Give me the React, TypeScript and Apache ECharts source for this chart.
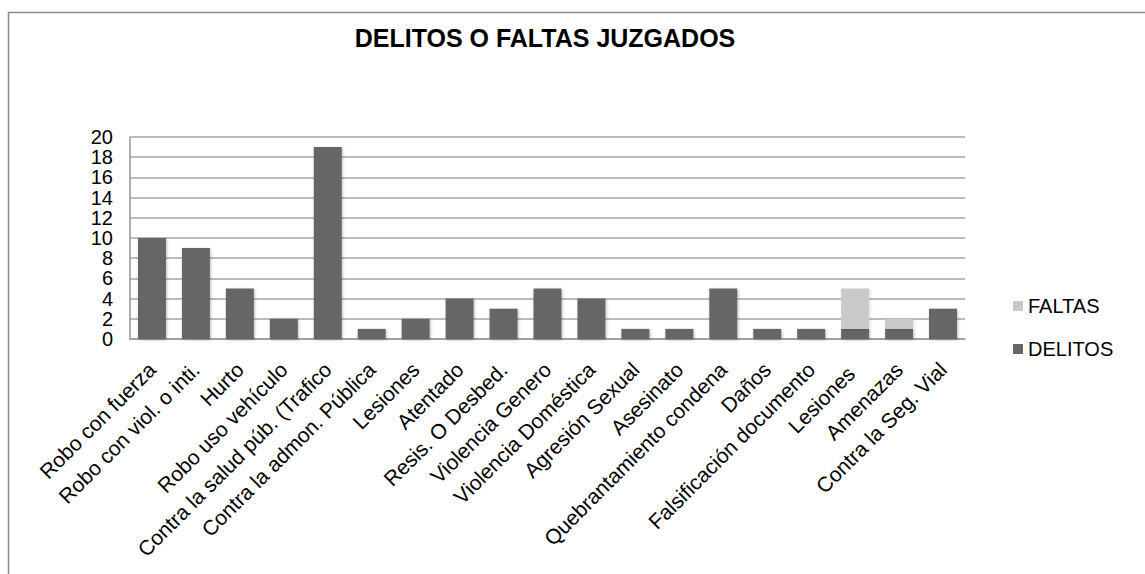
import React, { useEffect, useRef } from "react";
import * as echarts from "echarts";

const categories = [
  "Robo con fuerza",
  "Robo con viol. o inti.",
  "Hurto",
  "Robo uso vehículo",
  "Contra la salud púb. (Trafico",
  "Contra la admon. Pública",
  "Lesiones",
  "Atentado",
  "Resis. O Desbed.",
  "Violencia Genero",
  "Violencia Doméstica",
  "Agresión Sexual",
  "Asesinato",
  "Quebrantamiento condena",
  "Daños",
  "Falsificación documento",
  "Lesiones ",
  "Amenazas",
  "Contra la Seg. Vial",
];

const delitos = [10, 9, 5, 2, 19, 1, 2, 4, 3, 5, 4, 1, 1, 5, 1, 1, 1, 1, 3];
const faltas = [0, 0, 0, 0, 0, 0, 0, 0, 0, 0, 0, 0, 0, 0, 0, 0, 4, 1, 0];

const yTicks = { min: 0, max: 20, interval: 2 };
const titleText = "DELITOS O FALTAS JUZGADOS";

const FONT = "'Liberation Sans', Arial, sans-serif";

export default function App() {
  const ref = useRef<HTMLDivElement>(null);
  useEffect(() => {
    if (!ref.current) return;
    const chart = echarts.init(ref.current, undefined, { renderer: "svg" });
    chart.setOption({
      animation: false,
      backgroundColor: "#ffffff",
      textStyle: { fontFamily: FONT },
      graphic: [
        {
          type: "rect",
          shape: { x: 8.5, y: 12.5, width: 1300, height: 700 },
          style: { fill: "none", stroke: "#8c8c8c", lineWidth: 1.5 },
          silent: true,
        },
        {
          type: "text",
          x: 545,
          y: 38,
          style: {
            text: titleText,
            fontFamily: FONT,
            fontWeight: "bold",
            fontSize: 25,
            fill: "#000",
            textAlign: "center",
            textVerticalAlign: "middle",
          },
        },
      ],
      legend: {
        data: ["FALTAS", "DELITOS"],
        orient: "vertical",
        left: 1008,
        top: 291,
        itemWidth: 10,
        itemHeight: 10,
        itemGap: 23,
        icon: "rect",
        textStyle: { fontSize: 20, color: "#000", fontFamily: FONT },
      },
      grid: { left: 130, right: 180, top: 137, bottom: 235, containLabel: false },
      xAxis: {
        type: "category",
        data: categories,
        axisLine: { lineStyle: { color: "#999", width: 1.5 } },
        axisTick: { show: false },
        axisLabel: {
          rotate: 45,
          interval: 0,
          fontSize: 21,
          color: "#000",
          fontFamily: FONT,
          margin: 27,
        },
      },
      yAxis: {
        type: "value",
        min: yTicks.min,
        max: yTicks.max,
        interval: yTicks.interval,
        axisLine: { show: true, lineStyle: { color: "#999", width: 1.5 } },
        axisTick: { show: false },
        axisLabel: { fontSize: 20, color: "#000", fontFamily: FONT, margin: 17 },
        splitLine: { lineStyle: { color: "#a6a6a6", width: 1.5 } },
      },
      series: [
        {
          name: "DELITOS",
          type: "bar",
          stack: "total",
          data: delitos,
          barWidth: 28,
          itemStyle: {
            color: "#666666",
            shadowColor: "rgba(0,0,0,0.25)",
            shadowBlur: 3,
            shadowOffsetX: 1,
            shadowOffsetY: 1,
          },
        },
        {
          name: "FALTAS",
          type: "bar",
          stack: "total",
          data: faltas,
          barWidth: 28,
          itemStyle: {
            color: "#c9c9c9",
            shadowColor: "rgba(0,0,0,0.15)",
            shadowBlur: 3,
            shadowOffsetX: 1,
            shadowOffsetY: 1,
          },
        },
      ],
    });
    return () => chart.dispose();
  }, []);
  return (
    <div
      ref={ref}
      style={{ position: "fixed", left: 0, top: 0, width: 1145, height: 574 }}
    />
  );
}
